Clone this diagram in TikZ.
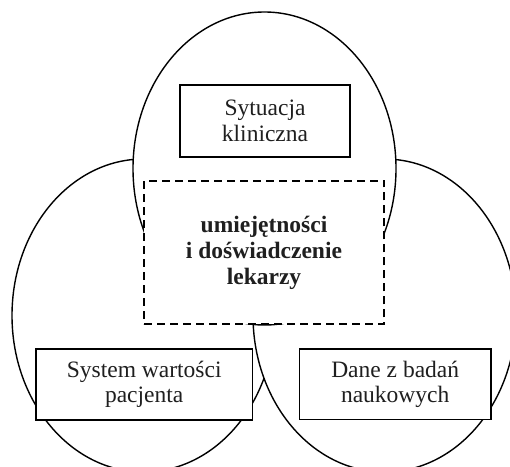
\documentclass[tikz,border=0pt]{standalone}
\usepackage{fontspec}
\setmainfont{Liberation Serif}
\begin{document}
\begin{tikzpicture}[x=1pt,y=-1pt,
  zone/.style={draw=black,fill=white,line width=1.4pt},
  labelbox/.style={draw=black,fill=white,line width=1.9pt,inner sep=0pt,
    align=center,text=black!88,font=\fontsize{23.5}{25.5}\selectfont},
  corebox/.style={draw=black,fill=white,line width=2pt,dash pattern=on 8pt off 5pt,
    inner sep=0pt,align=center,text=black!88,font=\fontsize{23.5}{26}\selectfont\bfseries}]
  \useasboundingbox (0,0) rectangle (510,466);
  \clip (0,0) rectangle (510,466);
  % three overlapping areas (left, right, top)
  \draw[zone] (143.5,315.5) ellipse [x radius=131.5, y radius=156.5];
  \draw[zone] (384.5,315.5) ellipse [x radius=131.5, y radius=156.5];
  \draw[zone] (264.5,168.5) ellipse [x radius=131.5, y radius=156.5];
  % labels
  \node[labelbox,minimum width=170pt,minimum height=72pt] (clin) at (265,121)
    {Sytuacja\\kliniczna};
  \node[corebox,minimum width=240pt,minimum height=143.5pt] (core) at (264,252.7)
    {umiejętności\\i doświadczenie\\lekarzy};
  \node[labelbox,minimum width=216.5pt,minimum height=71pt] (pat) at (144.2,384.5)
    {System wartości\\pacjenta};
  \node[labelbox,minimum width=191.5pt,minimum height=70.5pt] (res) at (395.2,384.2)
    {Dane z badań\\naukowych};
\end{tikzpicture}
\end{document}
